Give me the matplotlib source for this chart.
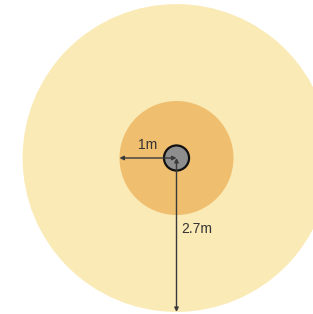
import matplotlib.pyplot as plt
from matplotlib.patches import Circle

plt.rcParams['font.family'] = ['Liberation Sans', 'DejaVu Sans']

# radii in metres
radii = [2.7, 1.0, 0.22]
labels = ["2.7m", "1m"]
fill_colors = ["#FAEAB5", "#EFBE6F", "#8E8E8E"]

px_per_m = 57.0
cx, cy = 176.5, 158.0   # centre in pixels (from top-left)
W, H = 313, 314

fig = plt.figure(figsize=(W / 100, H / 100), dpi=100)
ax = fig.add_axes([0, 0, 1, 1])
ax.set_xlim(-cx / px_per_m, (W - cx) / px_per_m)
ax.set_ylim(-(H - cy) / px_per_m, cy / px_per_m)
ax.set_aspect('equal')
ax.axis('off')

ax.add_patch(Circle((0, 0), radii[0], facecolor=fill_colors[0], edgecolor='none', zorder=1))
ax.add_patch(Circle((0, 0), radii[1], facecolor=fill_colors[1], edgecolor='none', zorder=2))
ax.add_patch(Circle((0, 0), radii[2], facecolor=fill_colors[2], edgecolor='#111111', lw=1.6, zorder=3))

arrow = dict(arrowstyle='<|-|>', color='#3a3a3a', lw=1.0, mutation_scale=6, shrinkA=0, shrinkB=0)

# horizontal arrow: 1m
ax.annotate('', xy=(-radii[1], 0), xytext=(0, 0), arrowprops=arrow, zorder=4)
ax.text(-radii[1] / 2, 0.1, labels[1], ha='center', va='bottom', fontsize=10, color='#333333')

# vertical arrow: 2.7m
ax.annotate('', xy=(0, -radii[0]), xytext=(0, 0), arrowprops=arrow, zorder=4)
ax.text(0.08, -1.25, labels[0], ha='left', va='center', fontsize=10, color='#333333')

fig.savefig('out.png', dpi=100, facecolor='white')
